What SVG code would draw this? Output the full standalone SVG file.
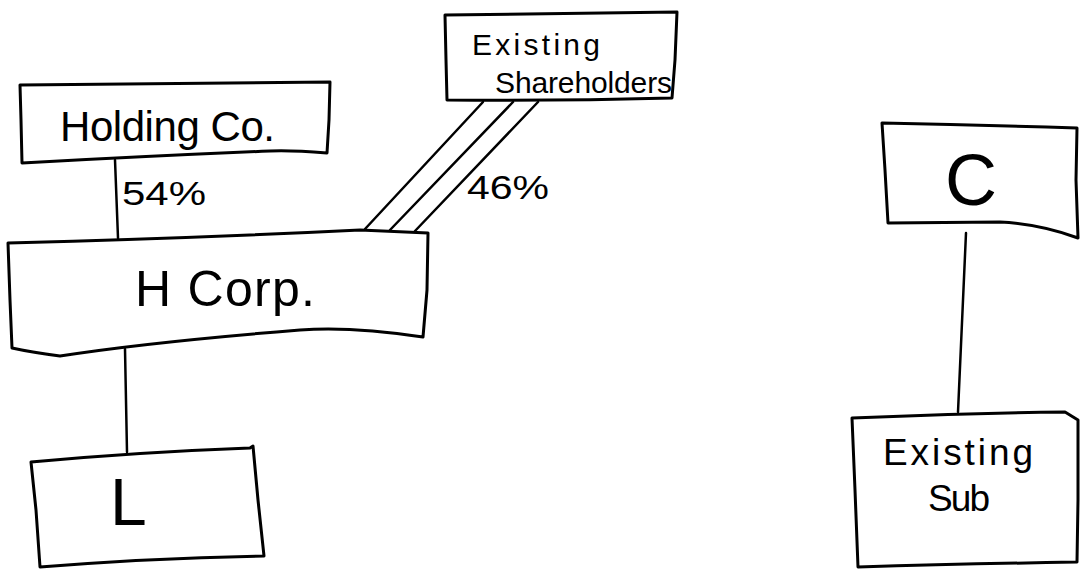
<svg xmlns="http://www.w3.org/2000/svg" width="1080" height="569" viewBox="0 0 1080 569">
<style>
.box{fill:none;stroke:#000;stroke-width:3;stroke-linejoin:round;stroke-linecap:round}
.ln{fill:none;stroke:#000;stroke-width:2.5;stroke-linecap:round}
.t{font-family:"Liberation Sans",Arial,sans-serif;fill:#000}
</style>
<rect width="1080" height="569" fill="#fff"/>
<g id="connectors">
<path class="ln" d="M115,160 L118,238"/>
<path class="ln" d="M125,349 L127,452"/>
<path class="ln" d="M483,102 L365,229"/>
<path class="ln" d="M513,102 L390,230"/>
<path class="ln" d="M538,102 L415,231"/>
<path class="ln" d="M966,233 L958,412"/>
<text class="t" x="122" y="205" font-size="34" textLength="84" lengthAdjust="spacingAndGlyphs">54%</text>
<text class="t" x="467" y="199" font-size="34" textLength="82" lengthAdjust="spacingAndGlyphs">46%</text>
</g>
<g id="holding">
<path class="box" d="M20,85 Q180,83 330,82 L329,120 L327,153 Q290,150 270,151 Q150,156 22,163 L21,120 Z"/>
<text class="t" x="60" y="141" font-size="42" textLength="215" lengthAdjust="spacing">Holding Co.</text>
</g>
<g id="shareholders">
<path class="box" d="M445,15 Q560,13 677,12 L675,60 L672,98 Q560,101 447,100 L446,60 Z"/>
<text class="t" x="472" y="55" font-size="30" textLength="128" lengthAdjust="spacing">Existing</text>
<text class="t" x="495" y="93" font-size="30" textLength="177" lengthAdjust="spacing">Shareholders</text>
</g>
<g id="hcorp">
<path class="box" d="M8,243 Q200,238 360,230 L428,233 L427,290 L423,337 Q350,326 300,330 Q150,342 60,356 Q30,352 12,348 L10,300 Z"/>
<text class="t" x="135" y="306" font-size="50" textLength="180" lengthAdjust="spacing">H  Corp.</text>
</g>
<g id="L">
<path class="box" d="M31,462 Q140,452 250,448 L253,446 L258,500 L264,556 Q150,558 40,567 L36,510 Z"/>
<text class="t" x="110" y="525" font-size="66">L</text>
</g>
<g id="C">
<path class="box" d="M882,123 Q980,125 1077,128 L1076,180 L1078,238 Q1040,224 1000,222 L888,223 L885,170 Z"/>
<text class="t" x="945" y="205" font-size="72">C</text>
</g>
<g id="sub">
<path class="box" d="M852,418 Q960,413 1065,412 L1078,420 L1078,500 L1077,562 Q960,564 858,567 L855,490 Z"/>
<text class="t" x="883" y="465" font-size="37" textLength="150" lengthAdjust="spacing">Existing</text>
<text class="t" x="928" y="511" font-size="37" textLength="62" lengthAdjust="spacing">Sub</text>
</g>
</svg>
